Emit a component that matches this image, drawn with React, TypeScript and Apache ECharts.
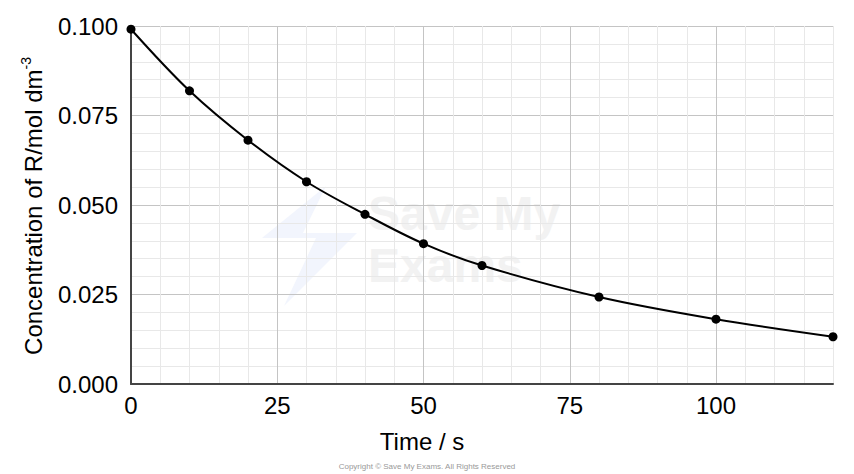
import React, { useEffect, useRef } from "react";
import * as echarts from "echarts";

const times = [0, 10, 20, 30, 40, 50, 60, 80, 100, 120];
const concentrations = [0.0991, 0.0819, 0.0681, 0.0565, 0.0474, 0.0392, 0.0331, 0.0243, 0.0181, 0.0132];
const xMajorTicks = [0, 25, 50, 75, 100];
const yMajorTicks = ["0.000", "0.025", "0.050", "0.075", "0.100"];

const xTitle = "Time / s";
const yTitleMain = "Concentration of R/mol dm";
const yTitleSup = "-3";
const copyright = "Copyright © Save My Exams. All Rights Reserved";

const MAJOR = "#c4c4c4";
const MINOR = "#e8e8e8";
const FONT = "Liberation Sans, Arial, Helvetica, sans-serif";

export default function App() {
  const ref = useRef<HTMLDivElement>(null);
  useEffect(() => {
    document.body.style.margin = "0";
    const chart = echarts.init(ref.current!, null, { renderer: "svg" });
    const points = times.map((t, i) => [t, concentrations[i]]);
    chart.setOption({
      animation: false,
      backgroundColor: "#ffffff",
      grid: { left: 131, right: 21, top: 26, bottom: 90, containLabel: false },
      xAxis: {
        type: "value",
        min: 0,
        max: 120,
        interval: 5,
        axisLine: { show: true, onZero: false, lineStyle: { color: "#444444", width: 2 } },
        axisTick: { show: false },
        axisLabel: {
          interval: 0,
          showMaxLabel: true,
          margin: 9,
          fontSize: 24,
          color: "#000000",
          fontFamily: FONT,
          formatter: (v: number) => {
            const r = Math.round(v);
            return xMajorTicks.indexOf(r) >= 0 ? String(r) : "";
          },
        },
        splitLine: { show: true, lineStyle: { color: [MAJOR, MINOR, MINOR, MINOR, MINOR], width: 1 } },
      },
      yAxis: {
        type: "value",
        min: 0,
        max: 0.1,
        interval: 0.005,
        axisLine: { show: true, onZero: false, lineStyle: { color: "#444444", width: 2 } },
        axisTick: { show: false },
        axisLabel: {
          interval: 0,
          margin: 13,
          fontSize: 24,
          color: "#000000",
          fontFamily: FONT,
          formatter: (v: number) => {
            const s = v.toFixed(3);
            return yMajorTicks.indexOf(s) >= 0 ? s : "";
          },
        },
        splitLine: { show: true, lineStyle: { color: [MAJOR, MINOR, MINOR, MINOR, MINOR], width: 1 } },
      },
      graphic: [
        {
          type: "polygon",
          z: -1,
          silent: true,
          shape: {
            points: [
              [326, 186],
              [262, 238],
              [316, 238],
              [284, 306],
              [357, 233],
              [303, 233],
            ],
          },
          style: { fill: "#f2f5fd" },
        },
        {
          type: "text",
          z: -1,
          silent: true,
          x: 368,
          y: 213,
          style: {
            text: "Save My",
            font: `bold 48px ${FONT}`,
            fill: "#f2f2f2",
            verticalAlign: "middle",
          },
        },
        {
          type: "text",
          z: -1,
          silent: true,
          x: 368,
          y: 265,
          style: {
            text: "Exams",
            font: `bold 48px ${FONT}`,
            fill: "#f2f2f2",
            verticalAlign: "middle",
          },
        },
        {
          type: "text",
          x: 33,
          y: 206,
          rotation: Math.PI / 2,
          style: {
            text: `{a|${yTitleMain}}{s|${yTitleSup}}`,
            align: "center",
            verticalAlign: "middle",
            rich: {
              a: { fontSize: 24, fontFamily: FONT, fill: "#000000", lineHeight: 28 },
              s: { fontSize: 14, fontFamily: FONT, fill: "#000000", verticalAlign: "top", lineHeight: 28, padding: [0, 0, 13, 0] },
            },
          },
        },
        {
          type: "text",
          x: 422,
          y: 441,
          style: {
            text: xTitle,
            font: `24px ${FONT}`,
            fill: "#000000",
            align: "center",
            verticalAlign: "middle",
          },
        },
        {
          type: "text",
          x: 427,
          y: 466,
          style: {
            text: copyright,
            font: `8px ${FONT}`,
            fill: "#999999",
            align: "center",
            verticalAlign: "middle",
          },
        },
      ],
      series: [
        {
          type: "line",
          data: points,
          smooth: 0.35,
          showSymbol: true,
          symbol: "circle",
          symbolSize: 9,
          lineStyle: { color: "#000000", width: 2 },
          itemStyle: { color: "#000000" },
          z: 5,
        },
      ],
    });
    return () => chart.dispose();
  }, []);
  return <div ref={ref} style={{ position: "fixed", left: 0, top: 0, width: 854, height: 474 }} />;
}
